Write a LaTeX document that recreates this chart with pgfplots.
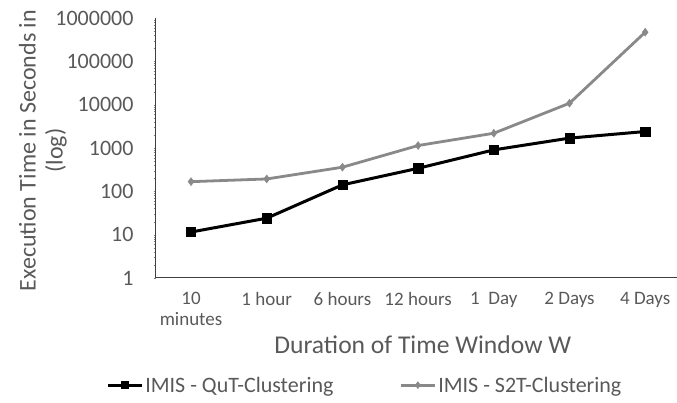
\documentclass[border=0pt]{standalone}
\usepackage{pgfplots}
\pgfplotsset{compat=1.18}
\usepackage{fontspec}
\setmainfont{Carlito}
\definecolor{txtgray}{HTML}{595959}
\definecolor{s2tgray}{HTML}{898989}
\definecolor{axisgray}{HTML}{404040}

\begin{document}
\begin{tikzpicture}
\begin{axis}[
    at={(155pt,125pt)}, anchor=south west,
    scale only axis, width=522pt, height=260pt,
    ymode=log, ymin=1, ymax=1000000,
    xmin=-0.476, xmax=6.42,
    axis lines=left,
    axis line style={-, axisgray, line width=1pt},
    major tick length=0pt,
    ytick={1,10,100,1000,10000,100000,1000000},
    yticklabels={1,10,100,1000,10000,100000,1000000},
    xtick={0,1,2,3,4,5,6},
    xticklabels={10\\minutes, 1 hour, 6 hours, 12 hours, 1\ \ Day, 2 Days, 4 Days},
    tick label style={text=txtgray},
    xticklabel style={font=\fontsize{19}{21}\selectfont, align=center, anchor=north, yshift=-11pt},
    yticklabel style={font=\fontsize{22}{24}\selectfont, anchor=east, xshift=-18pt},
    xlabel={Duration of Time Window W},
    xlabel style={font=\fontsize{25.6}{28}\selectfont, text=txtgray,
        at={(axis description cs:0.513,-0.258)}, anchor=center},
    ylabel={Execution Time in Seconds in\\(log)},
    ylabel style={align=center, font=\fontsize{24}{27}\selectfont, text=txtgray,
        at={(axis description cs:-0.2146,0.49)}, anchor=center},
    legend columns=2,
    legend style={at={(axis description cs:0.402,-0.412)}, anchor=center,
        draw=none, fill=none, font=\fontsize{22}{24}\selectfont, text=txtgray,
        /tikz/every even column/.append style={column sep=64pt}},
    legend image code/.code={
        \draw[mark repeat=2, mark phase=2, mark size=3.5pt] plot coordinates {(0pt,0pt) (17pt,0pt) (34pt,0pt)};
    },
]
\addplot[black, line width=3pt, mark=square*, mark size=4.6pt, mark options={solid, line width=0.4pt}]
    coordinates {(0,11.5) (1,24) (2,141) (3,340) (4,905) (5,1690) (6,2400)};
\addlegendentry{IMIS - QuT-Clustering}
\addplot[s2tgray, line width=2.8pt, mark=diamond*, mark size=4pt, mark options={solid, line width=0.4pt}]
    coordinates {(0,167) (1,193) (2,360) (3,1140) (4,2190) (5,10800) (6,470000)};
\addlegendentry{IMIS - S2T-Clustering}
\end{axis}
\pgfresetboundingbox
\useasboundingbox (0pt,0pt) rectangle (677pt,403pt);
\end{tikzpicture}
\end{document}
